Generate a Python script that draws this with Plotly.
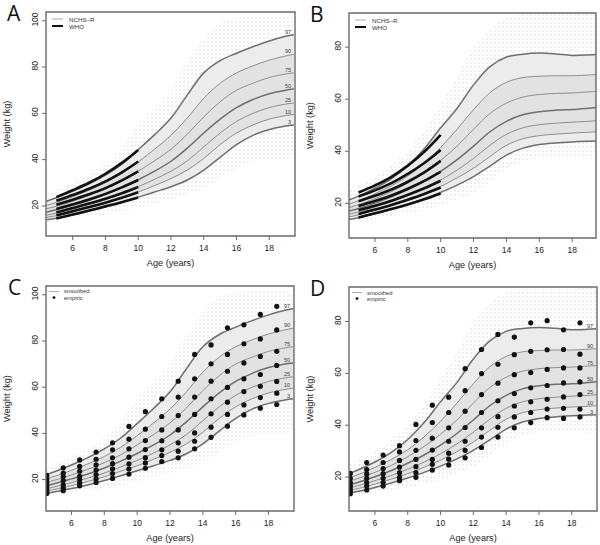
import plotly.graph_objects as go

W, H = 600, 545

# ---------------- data ----------------
PCT = ["97", "90", "75", "50", "25", "10", "3"]
CURVE_AGES = [4.4, 5, 6, 7, 8, 9, 10, 11, 12, 13, 14, 15, 16, 17, 18, 19, 19.5]

BOYS_97 = [22, 23.5, 26.3, 29.5, 33.3, 38, 44.3, 50.8, 58, 68, 77.5, 82.8, 86, 88.8, 91.3, 93.3, 94]
BOYS_90 = [20.2, 21.5, 24, 26.8, 30, 34, 39, 44.5, 50.5, 58, 66.5, 73, 77.5, 80.5, 83, 84.8, 85.5]
BOYS_75 = [18.8, 19.8, 22, 24.5, 27.3, 30.7, 35, 39.5, 44.5, 51, 58.5, 65, 70, 73, 75.5, 77, 77.5]
BOYS_50 = [17.3, 18.3, 20.3, 22.4, 25, 28, 31.3, 35, 39.3, 45, 51.5, 57.5, 62.5, 66, 68.5, 70, 70.5]
BOYS_25 = [16, 16.9, 18.7, 20.7, 22.8, 25.5, 28.3, 31.5, 35, 39.5, 45.5, 51.5, 56.5, 60, 62.5, 64, 64.5]
BOYS_10 = [15, 15.8, 17.4, 19.2, 21.2, 23.6, 26, 28.8, 31.8, 35.5, 40.5, 46.5, 51.5, 55, 57.5, 59, 59.5]
BOYS_3 = [14, 14.7, 16.1, 17.7, 19.6, 21.7, 23.8, 26, 28.3, 31.2, 35.5, 41, 46.5, 50.5, 53, 54.5, 55]

GIRLS_97 = [21.3, 22.8, 25.8, 29.5, 34.5, 41, 49, 56.5, 65.5, 72.5, 76.2, 77.3, 77.7, 77.4, 76.8, 77.0, 77.2]
GIRLS_90 = [19.7, 21, 23.7, 26.8, 30.5, 35.5, 41.5, 48.5, 56, 62.5, 66.5, 68.3, 68.8, 69, 69, 69.3, 69.5]
GIRLS_75 = [18.3, 19.5, 21.8, 24.5, 27.8, 31.8, 36.5, 42, 48.5, 54.5, 58.5, 60.8, 61.8, 62.2, 62.4, 62.8, 63]
GIRLS_50 = [17, 18, 20.1, 22.5, 25.3, 28.5, 32.3, 36.8, 42, 47.5, 51.5, 54, 55.2, 55.8, 56, 56.5, 56.8]
GIRLS_25 = [15.8, 16.7, 18.6, 20.6, 23, 25.8, 29, 32.8, 37.3, 42.3, 46.5, 49, 50.2, 50.8, 51.2, 51.5, 51.8]
GIRLS_10 = [14.8, 15.6, 17.3, 19.2, 21.3, 23.8, 26.5, 29.8, 33.5, 38, 42.3, 44.8, 46, 46.6, 47, 47.3, 47.5]
GIRLS_3 = [13.8, 14.5, 16, 17.7, 19.6, 21.8, 24.2, 27, 30.3, 34.3, 38.5, 41.2, 42.6, 43.2, 43.6, 43.9, 44]

WHO_AGES = [5, 6, 7, 8, 9, 10]
WHO_BOYS_97 = [23.8, 26.8, 30.0, 33.9, 38.6, 44.2]
WHO_BOYS_90 = [22.2, 24.7, 27.4, 30.6, 34.5, 39.2]
WHO_BOYS_75 = [20.5, 22.7, 25.0, 27.7, 31.0, 34.9]
WHO_BOYS_50 = [18.7, 20.7, 22.8, 25.2, 28.0, 31.2]
WHO_BOYS_25 = [17.2, 19.1, 21.0, 23.1, 25.5, 28.2]
WHO_BOYS_10 = [15.9, 17.7, 19.5, 21.4, 23.5, 25.9]
WHO_BOYS_3 = [14.6, 16.3, 18.0, 19.8, 21.6, 23.6]

WHO_GIRLS_97 = [24.2, 26.9, 30.2, 34.5, 39.8, 46.3]
WHO_GIRLS_90 = [22.6, 25.0, 27.8, 31.3, 35.5, 40.5]
WHO_GIRLS_75 = [20.8, 22.9, 25.3, 28.3, 31.9, 36.3]
WHO_GIRLS_50 = [19.0, 20.9, 23.0, 25.6, 28.6, 32.2]
WHO_GIRLS_25 = [17.4, 19.1, 21.0, 23.3, 25.8, 28.7]
WHO_GIRLS_10 = [15.9, 17.6, 19.4, 21.4, 23.6, 26.1]
WHO_GIRLS_3 = [14.6, 16.2, 17.8, 19.6, 21.6, 23.8]

EMP_AGES = [4.5, 5.5, 6.5, 7.5, 8.5, 9.5, 10.5, 11.5, 12.5, 13.5, 14.5, 15.5, 16.5, 17.5, 18.5]
EMP_BOYS_97 = [21.8, 25.1, 28.5, 31.9, 35.9, 43.0, 49.4, 55.0, 62.6, 74.2, 78.3, 85.7, 87.0, 91.5, 95.0]
EMP_BOYS_90 = [20.2, 22.8, 25.7, 28.8, 32.9, 37.5, 41.8, 47.3, 55.7, 63.6, 70.1, 74.2, 78.8, 80.9, 84.8]
EMP_BOYS_75 = [18.8, 21.3, 23.6, 26.4, 29.4, 33.3, 36.9, 41.5, 47.7, 55.7, 62.6, 66.9, 70.5, 73.3, 75.5]
EMP_BOYS_50 = [17.3, 19.6, 21.4, 24.2, 26.9, 29.7, 33.0, 36.8, 41.5, 48.2, 55.0, 59.9, 63.6, 65.5, 69.4]
EMP_BOYS_25 = [16.1, 17.7, 20.0, 22.2, 24.7, 26.8, 29.5, 32.9, 35.9, 40.2, 48.5, 53.5, 58.1, 60.4, 62.5]
EMP_BOYS_10 = [15.0, 16.3, 18.6, 20.3, 22.6, 24.6, 27.2, 30.4, 32.3, 36.6, 42.7, 48.2, 52.3, 55.5, 57.4]
EMP_BOYS_3 = [14.0, 15.2, 17.3, 18.7, 20.5, 22.4, 24.9, 27.8, 29.4, 33.3, 38.3, 43.1, 48.0, 50.9, 52.5]

EMP_GIRLS_97 = [21.4, 25.6, 28.5, 32.1, 40.3, 47.7, 50.8, 61.8, 69.2, 75.0, 74.0, 79.5, 80.3, 76.8, 79.5]
EMP_GIRLS_90 = [19.5, 22.9, 25.6, 29.7, 34.1, 41.0, 44.9, 53.3, 59.9, 63.5, 67.2, 68.5, 69.1, 69.2, 67.4]
EMP_GIRLS_75 = [17.9, 21.2, 23.3, 26.4, 30.3, 35.0, 39.0, 45.4, 51.8, 56.2, 59.5, 60.3, 61.5, 62.1, 62.1]
EMP_GIRLS_50 = [16.7, 19.5, 21.3, 23.8, 26.8, 30.4, 33.8, 39.1, 44.9, 49.4, 52.2, 54.4, 55.3, 56.3, 56.7]
EMP_GIRLS_25 = [15.6, 17.9, 19.5, 21.7, 24.0, 26.8, 29.2, 33.8, 39.0, 43.3, 47.4, 49.0, 50.0, 50.9, 51.8]
EMP_GIRLS_10 = [14.6, 16.5, 17.9, 19.9, 21.7, 24.9, 26.9, 30.3, 35.4, 39.2, 43.2, 44.9, 46.2, 46.5, 46.2]
EMP_GIRLS_3 = [13.6, 15.0, 16.5, 18.6, 19.9, 22.7, 24.6, 27.4, 31.4, 35.4, 39.0, 41.0, 42.9, 42.6, 43.2]

# extent of the raw-data cloud (read as envelopes)
CLOUD_AGES = [4.4, 6, 8, 9, 10, 11, 12, 13, 14, 15, 16, 17, 18, 19.5]
CLOUD_BOYS_HI = [25, 30, 38, 45, 55, 62, 70, 82, 92, 99, 101, 102, 102, 100]
CLOUD_BOYS_LO = [12.5, 14.5, 16.5, 17.8, 19, 21, 23, 25, 28, 32, 36, 39, 40, 42]
CLOUD_GIRLS_HI = [25, 30, 40, 48, 58, 68, 80, 87, 91, 92.5, 92.5, 92.5, 92.5, 92]
CLOUD_GIRLS_LO = [12.5, 14, 16, 17.5, 19, 21.5, 24, 28, 33, 36, 37.5, 38, 38, 38]

X_TICKS = [6, 8, 10, 12, 14, 16, 18]
Y_TICKS_BOYS = [20, 40, 60, 80, 100]
Y_TICKS_GIRLS = [20, 40, 60, 80]

BOYS = [BOYS_97, BOYS_90, BOYS_75, BOYS_50, BOYS_25, BOYS_10, BOYS_3]
GIRLS = [GIRLS_97, GIRLS_90, GIRLS_75, GIRLS_50, GIRLS_25, GIRLS_10, GIRLS_3]
WHO_B = [WHO_BOYS_97, WHO_BOYS_90, WHO_BOYS_75, WHO_BOYS_50, WHO_BOYS_25, WHO_BOYS_10, WHO_BOYS_3]
WHO_G = [WHO_GIRLS_97, WHO_GIRLS_90, WHO_GIRLS_75, WHO_GIRLS_50, WHO_GIRLS_25, WHO_GIRLS_10, WHO_GIRLS_3]
EMP_B = [EMP_BOYS_97, EMP_BOYS_90, EMP_BOYS_75, EMP_BOYS_50, EMP_BOYS_25, EMP_BOYS_10, EMP_BOYS_3]
EMP_G = [EMP_GIRLS_97, EMP_GIRLS_90, EMP_GIRLS_75, EMP_GIRLS_50, EMP_GIRLS_25, EMP_GIRLS_10, EMP_GIRLS_3]

# ---------------- layout geometry (pixels) ----------------
PANELS = {
    "A": dict(box=(46, 295, 12, 236), xr=[4.37, 19.57], yr=[7.0, 103.8]),
    "B": dict(box=(349, 596, 13, 238), xr=[4.42, 19.45], yr=[6.7, 93.1]),
    "C": dict(box=(46, 294, 286, 511), xr=[4.45, 19.55], yr=[6.4, 103.8]),
    "D": dict(box=(349, 597, 287, 511), xr=[4.42, 19.54], yr=[6.9, 93.3]),
}

FONT = "Liberation Sans, Arial, sans-serif"
FRAME = "#6a6a6a"
fig = go.Figure()


def px(x):
    return x / W


def py(y):
    return 1 - y / H


axis_ids = {"A": ("x", "y"), "B": ("x2", "y2"), "C": ("x3", "y3"), "D": ("x4", "y4")}


def add_panel(key, curves, cloud_hi, cloud_lo, who=None, emp=None):
    xa, ya = axis_ids[key]
    common = dict(xaxis=xa, yaxis=ya, showlegend=False, hoverinfo="skip")
    # outer sparse cloud (dotted texture)
    fig.add_trace(go.Scatter(x=CLOUD_AGES + CLOUD_AGES[::-1], y=cloud_hi + cloud_lo[::-1],
                             fill="toself", fillcolor="rgba(0,0,0,0)", line=dict(width=0, shape="spline"),
                             fillpattern=dict(shape=".", size=4, solidity=0.16, fgcolor="#cdcdcd",
                                              bgcolor="rgba(255,255,255,0)"),
                             mode="lines", **common))
    # main cloud between 3rd and 97th
    fig.add_trace(go.Scatter(x=CURVE_AGES, y=curves[6], mode="lines", line=dict(width=0, shape="spline"), **common))
    fig.add_trace(go.Scatter(x=CURVE_AGES, y=curves[0], mode="lines", line=dict(width=0, shape="spline"),
                             fill="tonexty", fillcolor="#ececec", **common))
    # denser core between 10th and 90th
    fig.add_trace(go.Scatter(x=CURVE_AGES, y=curves[5], mode="lines", line=dict(width=0, shape="spline"), **common))
    fig.add_trace(go.Scatter(x=CURVE_AGES, y=curves[1], mode="lines", line=dict(width=0, shape="spline"),
                             fill="tonexty", fillcolor="#e2e2e2", **common))
    # percentile curves
    for name, c in zip(PCT, curves):
        strong = name in ("97", "50", "3")
        fig.add_trace(go.Scatter(x=CURVE_AGES, y=c, mode="lines",
                                 line=dict(color="#6e6e6e" if strong else "#8e8e8e",
                                           width=1.5 if strong else 1.0, shape="spline"),
                                 **common))
        fig.add_annotation(x=CURVE_AGES[-1], y=c[-1], xref=xa, yref=ya, text=name, showarrow=False,
                           xanchor="right", yanchor="middle", xshift=-1, yshift=3,
                           font=dict(family=FONT, size=5.5, color="#444"))
    if who:
        for c in who:
            fig.add_trace(go.Scatter(x=WHO_AGES, y=c, mode="lines",
                                     line=dict(color="#111", width=2.6, shape="spline"), **common))
    if emp:
        for c in emp:
            fig.add_trace(go.Scatter(x=EMP_AGES, y=c, mode="markers",
                                     marker=dict(color="#111", size=5.2), cliponaxis=True, **common))


add_panel("A", BOYS, CLOUD_BOYS_HI, CLOUD_BOYS_LO, who=WHO_B)
add_panel("B", GIRLS, CLOUD_GIRLS_HI, CLOUD_GIRLS_LO, who=WHO_G)
add_panel("C", BOYS, CLOUD_BOYS_HI, CLOUD_BOYS_LO, emp=EMP_B)
add_panel("D", GIRLS, CLOUD_GIRLS_HI, CLOUD_GIRLS_LO, emp=EMP_G)

layout = dict(width=W, height=H, margin=dict(l=0, r=0, t=0, b=0), autosize=False,
              paper_bgcolor="white", plot_bgcolor="white", showlegend=False,
              font=dict(family=FONT, size=9, color="#222"))

shapes = []
annotations = list(fig.layout.annotations)
for key, p in PANELS.items():
    x0, x1, y0, y1 = p["box"]
    xa, ya = axis_ids[key]
    xname = "xaxis" + xa[1:]
    yname = "yaxis" + ya[1:]
    yt = Y_TICKS_BOYS if key in ("A", "C") else Y_TICKS_GIRLS
    axstyle = dict(showline=False, ticks="outside", ticklen=4, tickcolor="rgba(0,0,0,0)", tickwidth=1,
                   showgrid=False, zeroline=False,
                   tickfont=dict(family=FONT, size=8.5, color="#222"))
    layout[xname] = dict(domain=[px(x0), px(x1)], range=p["xr"], anchor=ya,
                         tickmode="array", tickvals=X_TICKS,
                         title=dict(text="Age (years)", standoff=7,
                                    font=dict(family=FONT, size=9.2, color="#222")),
                         **axstyle)
    layout[yname] = dict(domain=[py(y1), py(y0)], range=p["yr"], anchor=xa,
                         tickmode="array", tickvals=yt, tickangle=-90,
                         title=dict(text="Weight (kg)", standoff=17,
                                    font=dict(family=FONT, size=9.2, color="#222")),
                         **axstyle)
    # frame
    shapes.append(dict(type="rect", xref=f"{xa} domain", yref=f"{ya} domain", x0=0, x1=1, y0=0, y1=1,
                       line=dict(color=FRAME, width=1.4), layer="above"))
    # tick marks at the tick values
    for t in X_TICKS:
        shapes.append(dict(type="line", xref=xa, yref=f"{ya} domain", x0=t, x1=t,
                           ysizemode="pixel", yanchor=0, y0=0, y1=-4,
                           line=dict(color=FRAME, width=1)))
    for t in yt:
        shapes.append(dict(type="line", yref=ya, xref=f"{xa} domain", y0=t, y1=t,
                           xsizemode="pixel", xanchor=0, x0=0, x1=-4,
                           line=dict(color=FRAME, width=1)))
    # panel letter
    annotations.append(dict(x=px(x0 - 32), y=py(y0 + 1), xref="paper", yref="paper", text=key,
                            showarrow=False, xanchor="center", yanchor="middle",
                            font=dict(family="Open Sans, sans-serif", size=21, color="#111")))
    # mini legend
    if key in ("A", "B"):
        lx = x0 + 6
        shapes.append(dict(type="line", xref="paper", yref="paper", x0=px(lx), x1=px(lx + 11),
                           y0=py(y0 + 7), y1=py(y0 + 7), line=dict(color="#aaa", width=1)))
        shapes.append(dict(type="line", xref="paper", yref="paper", x0=px(lx), x1=px(lx + 11),
                           y0=py(y0 + 14), y1=py(y0 + 14), line=dict(color="#111", width=2)))
        for t, yy in (("NCHS–R", y0 + 7), ("WHO", y0 + 14)):
            annotations.append(dict(x=px(lx + 15), y=py(yy), xref="paper", yref="paper", text=t,
                                    showarrow=False, xanchor="left", yanchor="middle",
                                    font=dict(family=FONT, size=6.2, color="#333")))
    else:
        lx = x0 + 3
        shapes.append(dict(type="line", xref="paper", yref="paper", x0=px(lx), x1=px(lx + 10),
                           y0=py(y0 + 5.5), y1=py(y0 + 5.5), line=dict(color="#aaa", width=1)))
        shapes.append(dict(type="circle", xref="paper", yref="paper", x0=px(lx + 3.6), x1=px(lx + 6.4),
                           y0=py(y0 + 13), y1=py(y0 + 10.2), fillcolor="#111", line=dict(width=0)))
        for t, yy in (("smoothed", y0 + 5.5), ("empiric", y0 + 11.6)):
            annotations.append(dict(x=px(lx + 13), y=py(yy), xref="paper", yref="paper", text=t,
                                    showarrow=False, xanchor="left", yanchor="middle",
                                    font=dict(family=FONT, size=5.8, color="#333")))

layout["shapes"] = shapes
layout["annotations"] = annotations
fig.update_layout(**layout)
fig.write_html("out.html", config={"displayModeBar": False, "staticPlot": True},
               post_script="document.body.style.margin='0';document.body.style.padding='0';")
